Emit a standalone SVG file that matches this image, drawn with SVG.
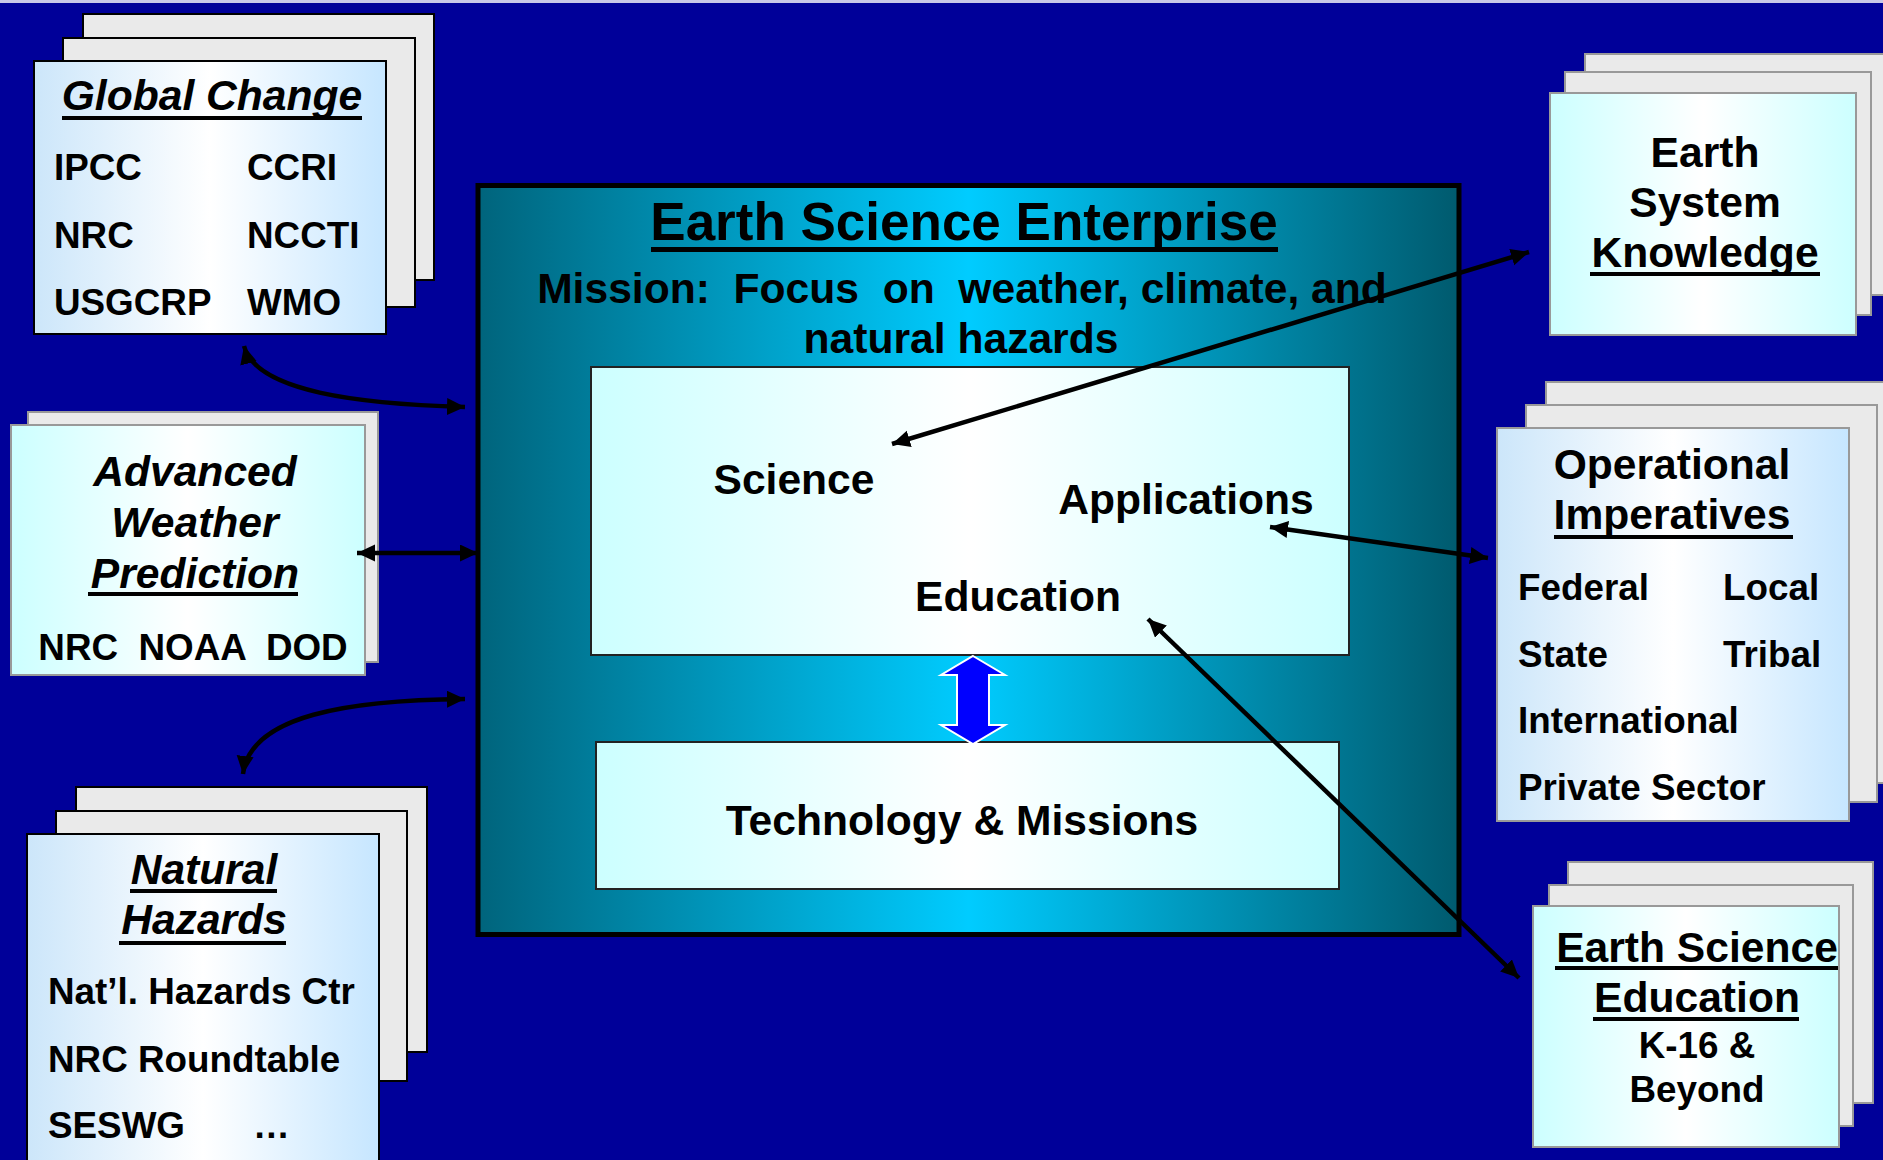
<svg xmlns="http://www.w3.org/2000/svg" width="1883" height="1160" viewBox="0 0 1883 1160">
<defs>
<linearGradient id="gCentral" x1="0" y1="0" x2="1" y2="0">
<stop offset="0" stop-color="#00647C"/>
<stop offset="0.5" stop-color="#00CCFF"/>
<stop offset="1" stop-color="#005A6E"/>
</linearGradient>
<linearGradient id="gInner" x1="0" y1="0" x2="1" y2="0">
<stop offset="0" stop-color="#CCFFFF"/>
<stop offset="0.5" stop-color="#FFFFFF"/>
<stop offset="1" stop-color="#CCFFFF"/>
</linearGradient>
<linearGradient id="gBlue" x1="0" y1="0" x2="1" y2="0">
<stop offset="0" stop-color="#CCE6FA"/>
<stop offset="0.5" stop-color="#FFFFFF"/>
<stop offset="1" stop-color="#C6E6FF"/>
</linearGradient>
<linearGradient id="gCyan" x1="0" y1="0" x2="1" y2="0">
<stop offset="0" stop-color="#CCFFFF"/>
<stop offset="0.5" stop-color="#FFFFFF"/>
<stop offset="1" stop-color="#CCFFFF"/>
</linearGradient>
<marker id="ah" markerUnits="userSpaceOnUse" markerWidth="21" markerHeight="19" refX="18" refY="8.5" orient="auto-start-reverse">
<path d="M0,0 L18,8.5 L0,17 z" fill="#000"/>
</marker>
<style>
text{font-family:"Liberation Sans",Arial,sans-serif;font-weight:bold;fill:#000}
.t42{font-size:42.6px}
.t36{font-size:36.8px}
.it{font-style:italic}
.mid{text-anchor:middle}
.ul{stroke:#000;stroke-width:4}
.back{fill:#EAEAEA;stroke:#000;stroke-width:2}
.backg{fill:#EAEAEA;stroke:#999;stroke-width:2}
.frontB{fill:url(#gBlue);stroke:#000;stroke-width:2}
.frontBg{fill:url(#gBlue);stroke:#999;stroke-width:2}
.frontC{fill:url(#gCyan);stroke:#999;stroke-width:2}
.conn{fill:none;stroke:#000;stroke-width:4.5;marker-start:url(#ah);marker-end:url(#ah)}
</style>
</defs>
<rect x="0" y="0" width="1883" height="1160" fill="#000099"/>
<rect x="0" y="0" width="1883" height="3" fill="#C8C8E8"/>

<g id="central">
<rect x="478" y="185.5" width="981" height="749" fill="url(#gCentral)" stroke="#000" stroke-width="5"/>
<text class="mid" x="964" y="240" style="font-size:53px">Earth Science Enterprise</text>
<line class="ul" x1="651" y1="249.5" x2="1278" y2="249.5" style="stroke-width:5"/>
<text class="mid t42" x="962" y="303" xml:space="preserve">Mission:  Focus  on  weather, climate, and</text>
<text class="mid t42" x="961" y="353">natural hazards</text>
</g>

<g id="sae">
<rect x="591" y="367" width="758" height="288" fill="url(#gInner)" stroke="#222" stroke-width="2"/>
<text class="mid t42" x="794" y="494">Science</text>
<text class="mid t42" x="1186" y="514">Applications</text>
<text class="mid t42" x="1018" y="611">Education</text>
</g>

<g id="tech">
<rect x="596" y="742" width="743" height="147" fill="url(#gInner)" stroke="#222" stroke-width="2"/>
<text class="mid t42" x="962" y="835">Technology &amp; Missions</text>
</g>

<g id="blue-arrow">
<polygon points="973,656 1005,675 989,675 989,725 1005,725 973,744 941,725 957,725 957,675 941,675" fill="#0000FF" stroke="#FFFFFF" stroke-width="2"/>
</g>

<g id="global-change">
<rect class="back" x="83" y="14" width="351" height="266"/>
<rect class="back" x="63" y="38" width="352" height="269"/>
<rect class="frontB" x="34" y="61" width="352" height="273"/>
<text class="mid t42 it" x="212" y="110">Global Change</text>
<line class="ul" x1="62" y1="118" x2="362" y2="118"/>
<text class="t36" x="54" y="180">IPCC</text>
<text class="t36" x="247" y="180">CCRI</text>
<text class="t36" x="54" y="248">NRC</text>
<text class="t36" x="247" y="248">NCCTI</text>
<text class="t36" x="54" y="315">USGCRP</text>
<text class="t36" x="247" y="315">WMO</text>
</g>

<g id="advanced-weather">
<rect class="backg" x="28" y="412" width="350" height="250"/>
<rect class="frontC" x="11" y="425" width="354" height="250"/>
<text class="mid t42 it" x="195" y="486">Advanced</text>
<text class="mid t42 it" x="195" y="537">Weather</text>
<text class="mid t42 it" x="195" y="588">Prediction</text>
<line class="ul" x1="88" y1="594" x2="298" y2="594"/>
<text class="mid t36" x="193" y="660" xml:space="preserve">NRC  NOAA  DOD</text>
</g>

<g id="natural-hazards">
<rect class="back" x="76" y="787" width="351" height="265"/>
<rect class="back" x="56" y="811" width="351" height="270"/>
<rect class="frontB" x="27" y="834" width="352" height="330"/>
<text class="mid t42 it" x="204" y="884">Natural</text>
<line class="ul" x1="130" y1="891" x2="277" y2="891"/>
<text class="mid t42 it" x="204" y="934">Hazards</text>
<line class="ul" x1="119" y1="943" x2="286" y2="943"/>
<text class="t36" x="48" y="1004">Nat’l. Hazards Ctr</text>
<text class="t36" x="48" y="1072">NRC Roundtable</text>
<text class="t36" x="48" y="1138">SESWG</text>
<text class="t36" x="253" y="1138">…</text>
</g>

<g id="earth-system-knowledge">
<rect class="backg" x="1585" y="54" width="310" height="241"/>
<rect class="backg" x="1565" y="72" width="306" height="243"/>
<rect class="frontC" x="1550" y="93" width="306" height="242"/>
<text class="mid t42" x="1705" y="167">Earth</text>
<text class="mid t42" x="1705" y="217">System</text>
<text class="mid t42" x="1705" y="267">Knowledge</text>
<line class="ul" x1="1590" y1="274" x2="1820" y2="274"/>
</g>

<g id="operational-imperatives">
<rect class="backg" x="1546" y="382" width="350" height="401"/>
<rect class="backg" x="1526" y="405" width="351" height="397"/>
<rect class="frontBg" x="1497" y="428" width="352" height="393"/>
<text class="mid t42" x="1672" y="479">Operational</text>
<text class="mid t42" x="1672" y="529">Imperatives</text>
<line class="ul" x1="1554" y1="537" x2="1793" y2="537"/>
<text class="t36" x="1518" y="600">Federal</text>
<text class="t36" x="1723" y="600">Local</text>
<text class="t36" x="1518" y="667">State</text>
<text class="t36" x="1723" y="667">Tribal</text>
<text class="t36" x="1518" y="733">International</text>
<text class="t36" x="1518" y="800">Private Sector</text>
</g>

<g id="earth-science-education">
<rect class="backg" x="1568" y="862" width="305" height="241"/>
<rect class="backg" x="1549" y="885" width="304" height="241"/>
<rect class="frontC" x="1533" y="906" width="306" height="241"/>
<text class="mid t42" x="1697" y="962">Earth Science</text>
<line class="ul" x1="1555" y1="968" x2="1838" y2="968"/>
<text class="mid t42" x="1697" y="1012">Education</text>
<line class="ul" x1="1593" y1="1019" x2="1799" y2="1019"/>
<text class="mid t36" x="1697" y="1058">K-16 &amp;</text>
<text class="mid t36" x="1697" y="1102">Beyond</text>
</g>

<g id="connectors">
<path class="conn" d="M244,346 C256,392 360,404 465,407"/>
<path class="conn" d="M357,553 L478,553"/>
<path class="conn" d="M243,774 C250,715 350,700 465,699"/>
<path class="conn" d="M892,444 L1529,252"/>
<path class="conn" d="M1270,527 L1488,558"/>
<path class="conn" d="M1148,619 L1519,978"/>
</g>
</svg>
